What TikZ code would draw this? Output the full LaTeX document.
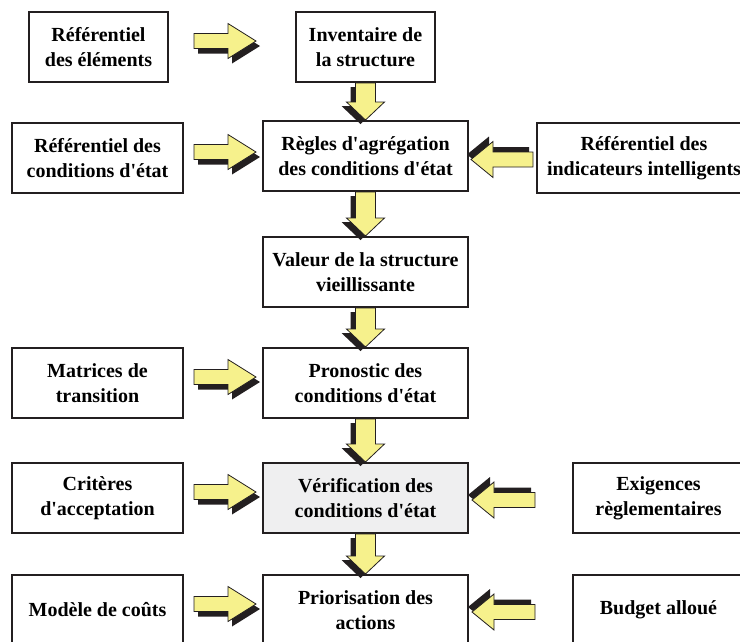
\documentclass[tikz,border=0pt]{standalone}
\usepackage{fontspec}
\setmainfont{Liberation Serif}[Ligatures=TeXOff]
\usetikzlibrary{calc}
\definecolor{ayellow}{RGB}{246,241,140}
\definecolor{dk}{RGB}{35,31,32}
\definecolor{vgray}{RGB}{239,239,240}

% block arrow from #1 to #2 (tip), body half-height #3, head half-height #4, head length #5
\newcommand{\blkarrow}[5]{%
  \path (#1) coordinate (bkA) (#2) coordinate (bkB);%
  \pgfpointanchor{bkA}{center}\pgfgetlastxy{\bkAx}{\bkAy}%
  \pgfpointanchor{bkB}{center}\pgfgetlastxy{\bkBx}{\bkBy}%
  \pgfmathsetmacro\bkLen{veclen(\bkBx-\bkAx,\bkBy-\bkAy)}%
  \pgfmathsetmacro\bkAng{atan2(\bkBy-\bkAy,\bkBx-\bkAx)}%
  \begin{scope}[shift={(\bkAx,\bkAy)},rotate=\bkAng,x=1pt,y=1pt]
    \fill[dk,shift={(4,-5)}] (0,#3) -- (\bkLen-#5,#3) -- (\bkLen-#5,#4) -- (\bkLen,0)
      -- (\bkLen-#5,-#4) -- (\bkLen-#5,-#3) -- (0,-#3) -- cycle;
    \filldraw[fill=ayellow,draw=dk,line width=0.8pt,line join=miter] (0,#3) -- (\bkLen-#5,#3) -- (\bkLen-#5,#4) -- (\bkLen,0)
      -- (\bkLen-#5,-#4) -- (\bkLen-#5,-#3) -- (0,-#3) -- cycle;
  \end{scope}}
\newcommand{\rarr}[2]{\blkarrow{#1}{#2}{7.5}{17.5}{28}}
\newcommand{\larr}[2]{\blkarrow{#1}{#2}{7.5}{18}{22}}
\newcommand{\darr}[2]{\blkarrow{#1}{#2}{10}{19}{18}}

\begin{document}
\begin{tikzpicture}[x=1pt,y=-1pt,
  box/.style={draw=dk, line width=2pt, fill=white, align=center,
    font=\fontsize{20}{25}\selectfont\bfseries, inner sep=0pt,
    minimum height=70pt},
  narrow/.style={minimum width=139pt},
  side/.style={minimum width=171pt},
  main/.style={minimum width=205pt}]
\useasboundingbox (0,0) rectangle (740,641);
\clip (0,0) rectangle (740,641);

% boxes
\node[box,narrow] (b1) at (98.5,47) {Référentiel\\des éléments};
\node[box,narrow] (b2) at (365.5,47) {Inventaire de\\la structure};
\node[box,side] (b3) at (97.5,158) {Référentiel des\\conditions d'état};
\node[box,main] (b4) at (365.5,156) {Règles d'agrégation\\des conditions d'état};
\node[box,minimum width=214pt] (b5) at (644,158) {Référentiel des\\indicateurs intelligents};
\node[box,main] (b6) at (365.5,272) {Valeur de la structure\\vieillissante};
\node[box,side] (b7) at (97.5,383) {Matrices de\\transition};
\node[box,main] (b8) at (365.5,383) {Pronostic des\\conditions d'état};
\node[box,side] (b9) at (97.5,498) {Critères\\d'acceptation};
\node[box,main,fill=vgray] (b10) at (365.5,498) {Vérification des\\conditions d'état};
\node[box,minimum width=171pt] (b11) at (658.5,498) {Exigences\\règlementaires};
\node[box,side] (b12) at (97.5,610) {Modèle de coûts};
\node[box,main] (b13) at (365.5,610) {Priorisation des\\actions};
\node[box,minimum width=171pt] (b14) at (658.5,610) {Budget alloué};

% free ends of the side arrows
\coordinate (r1a) at (194,41);  \coordinate (r1b) at (256,41);
\coordinate (r2a) at (194,152); \coordinate (r2b) at (256,152);
\coordinate (r4a) at (194,377); \coordinate (r4b) at (256,377);
\coordinate (r5a) at (194,492); \coordinate (r5b) at (256,492);
\coordinate (r6a) at (194,604); \coordinate (r6b) at (256,604);
\coordinate (l2a) at (533,159.5); \coordinate (l2b) at (471,159.5);
\coordinate (l5a) at (535,500); \coordinate (l5b) at (472,500);
\coordinate (l6a) at (535,612); \coordinate (l6b) at (472,612);

% right arrows
\rarr{r1a}{r1b}
\rarr{r2a}{r2b}
\rarr{r4a}{r4b}
\rarr{r5a}{r5b}
\rarr{r6a}{r6b}
% left arrows
\larr{l2a}{l2b}
\larr{l5a}{l5b}
\larr{l6a}{l6b}
% down arrows
\darr{b2.south}{b4.north}
\darr{b4.south}{b6.north}
\darr{b6.south}{b8.north}
\darr{b8.south}{b10.north}
\darr{b10.south}{b13.north}
\end{tikzpicture}
\end{document}
